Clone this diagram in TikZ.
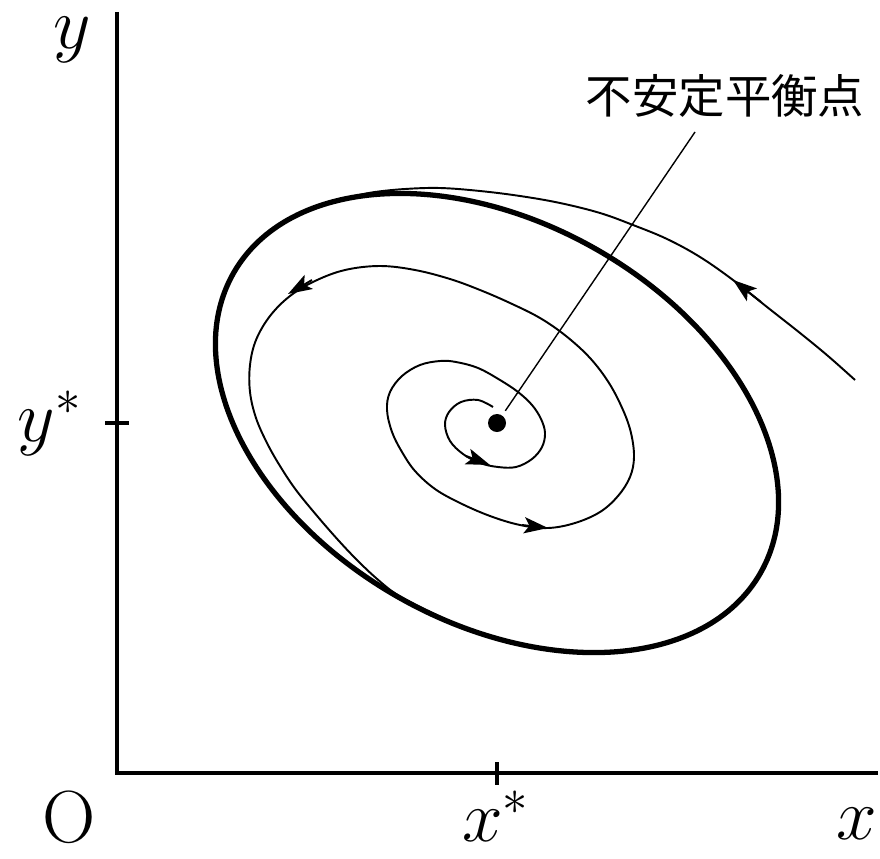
\documentclass[tikz,border=0pt]{standalone}
\usepackage{fontspec}
\newfontfamily\cjk{Noto Sans CJK JP}
\usetikzlibrary{arrows.meta}
\begin{document}
\begin{tikzpicture}[x=0.01cm, y=-0.01cm,
  axis/.style={line width=0.9pt},
  limitcycle/.style={line width=1.5pt},
  traj/.style={line width=0.55pt},
  arr/.style={line width=0.55pt, -{Stealth[length=6.8pt,width=4.6pt,inset=1.5pt]}},
  lab/.style={font=\fontsize{21}{25}\selectfont, inner sep=0pt},
  leader/.style={line width=0.4pt}]
\useasboundingbox (0,0) rectangle (880,858);
% axes
\coordinate (ytop) at (117,12);
\coordinate (orig) at (117,773);
\coordinate (xend) at (878,773);
\draw[axis] (ytop) -- (orig) -- (xend);
\coordinate (xt1) at (497,762); \coordinate (xt2) at (497,785);
\coordinate (yt1) at (105,423); \coordinate (yt2) at (129,423);
\draw[axis] (xt1) -- (xt2);
\draw[axis] (yt1) -- (yt2);
% labels
\node[lab, anchor=base] (ylab) at (72,49) {$y$};
\node[lab, anchor=base] (ystar) at (50,441) {$y^*$};
\node[lab, anchor=base] (olab) at (69,842) {O};
\node[lab, anchor=base] (xstar) at (496,841) {$x^*$};
\node[lab, anchor=base] (xlab) at (857,839) {$x$};
% spiral trajectory from the equilibrium
\draw[traj] plot[smooth, tension=0.6] coordinates {
 (493,407) (478,400) (461,402) (449,412) (445,425) (450,441) (463,454)
 (480,463) (498,467) (516,467) (532,459) (542,447) (545,433) (541,419)
 (532,405) (518,392) (500,380) (478,368) (456,362) (440,361) (420,365)
 (402,376) (390,392) (387,410) (392,432) (402,452) (415,471) (435,489)
 (460,503) (490,516) (520,525) (548,528) (575,523) (600,512) (618,496)
 (630,477) (634,457) (631,433) (623,410) (609,383) (590,358) (566,336)
 (540,318) (510,303) (480,290) (450,279) (415,270) (380,266) (345,270)
 (315,281) (290,296) (270,316) (256,340) (250,365) (250,392) (256,418)
 (267,443) (280,466) (296,490) (318,517) (339,541) (357,560) (376,578)
 (396,594) (420,607) (445,619)};
% outer trajectory
\draw[traj] plot[smooth, tension=0.6] coordinates {
 (855,380) (828,356) (800,333) (767,307) (733,280) (700,257) (667,239)
 (633,225) (600,213) (560,203) (520,196) (480,191) (440,188)
 (405,189) (375,192) (355,196) (338,201) (318,206.5) (300,214)};
% arrowheads
\draw[arr] (466,456) -- (490,465);
\draw[arr] (522,525) -- (548,528);
\draw[arr] (312,280) -- (288,294);
\draw[arr] (761,302) -- (733,280);
% limit cycle
\draw[limitcycle, rotate around={-29.6:(497,423)}] (497,423) ellipse [x radius=3.03cm, y radius=2.00cm];
% equilibrium and label
\node[circle, fill, inner sep=0pt, minimum size=0.18cm] (eq) at (497,423) {};
\node[font=\cjk\fontsize{13.2}{15}\selectfont, inner sep=0pt] (lbl) at (725,96) {不安定平衡点};
\coordinate (leadstart) at (695,132);
\draw[leader, shorten >=0.05cm] (leadstart) -- (eq);
\end{tikzpicture}
\end{document}
